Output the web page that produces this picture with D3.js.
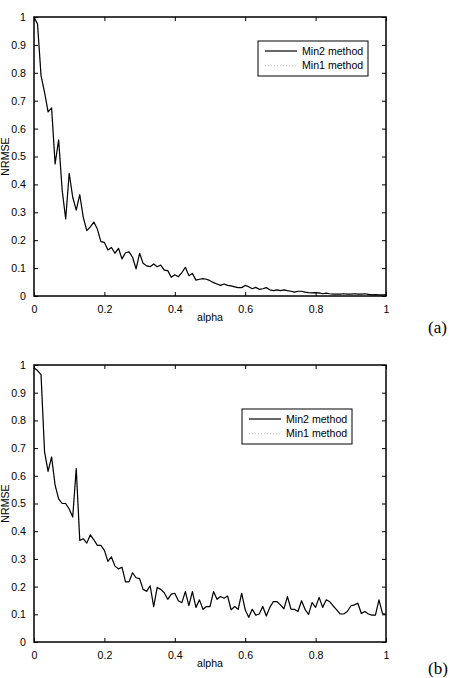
<!DOCTYPE html>
<html>
<head>
<meta charset="utf-8">
<script src="https://cdn.jsdelivr.net/npm/d3@7"></script>
<style>
  body { margin: 0; background: #fff; }
  svg { display: block; }
</style>
</head>
<body>
<svg id="chart" width="452" height="678"></svg>
<script>
// alpha grid, one point per 0.01
var alpha = d3.range(101).map(function(i){ return i / 100; });

// panel (a)
var min2A = [
  1.0, 0.975, 0.79, 0.73, 0.66, 0.674, 0.473, 0.56, 0.38, 0.276,
  0.44, 0.354, 0.308, 0.363, 0.282, 0.234, 0.248, 0.265, 0.24, 0.195,
  0.192, 0.165, 0.174, 0.153, 0.171, 0.133, 0.155, 0.158, 0.139, 0.097,
  0.153, 0.117, 0.108, 0.105, 0.115, 0.105, 0.111, 0.093, 0.091, 0.067,
  0.076, 0.069, 0.084, 0.103, 0.073, 0.081, 0.057, 0.06, 0.062, 0.06,
  0.055, 0.048, 0.043, 0.038, 0.043, 0.038, 0.036, 0.033, 0.03, 0.03,
  0.038, 0.033, 0.026, 0.031, 0.024, 0.026, 0.03, 0.022, 0.019, 0.022,
  0.019, 0.022, 0.019, 0.017, 0.014, 0.017, 0.017, 0.014, 0.012, 0.011,
  0.012, 0.011, 0.008, 0.01, 0.008, 0.007, 0.007, 0.007, 0.008, 0.007,
  0.007, 0.008, 0.007, 0.007, 0.008, 0.006, 0.004, 0.005, 0.004, 0.004,
  0.004
];
// Min1 lies under Min2 almost everywhere
var min1A = min2A;

// panel (b)
var min2B = [
  0.99, 0.98, 0.965, 0.686, 0.616, 0.668, 0.566, 0.517, 0.5, 0.5,
  0.48, 0.451, 0.626, 0.367, 0.373, 0.357, 0.387, 0.369, 0.349, 0.349,
  0.331, 0.291, 0.307, 0.274, 0.264, 0.27, 0.217, 0.217, 0.25, 0.232,
  0.229, 0.19, 0.183, 0.203, 0.128, 0.197, 0.19, 0.178, 0.154, 0.173,
  0.176, 0.149, 0.142, 0.182, 0.131, 0.182, 0.125, 0.152, 0.118, 0.128,
  0.128, 0.182, 0.154, 0.164, 0.158, 0.166, 0.116, 0.128, 0.118, 0.176,
  0.116, 0.089, 0.118, 0.097, 0.101, 0.128, 0.094, 0.125, 0.146, 0.146,
  0.134, 0.12, 0.164, 0.119, 0.118, 0.11, 0.149, 0.118, 0.1, 0.142,
  0.125, 0.161, 0.125, 0.152, 0.146, 0.13, 0.116, 0.101, 0.101, 0.11,
  0.13, 0.134, 0.14, 0.103, 0.11, 0.101, 0.097, 0.097, 0.152, 0.103,
  0.1
];
var min1B = min2B;

var xTicks = [0, 0.2, 0.4, 0.6, 0.8, 1];
var yTicks = [0, 0.1, 0.2, 0.3, 0.4, 0.5, 0.6, 0.7, 0.8, 0.9, 1];
var seriesNames = ["Min2 method", "Min1 method"];
var panelLabels = ["(a)", "(b)"];

var sans = "'Liberation Sans', Arial, Helvetica, sans-serif",
  serif = "'Liberation Serif', 'Times New Roman', serif";

var svg = d3.select("#chart");

function fmt(v){ return v === 0 || v === 1 ? String(v) : d3.format(".1f")(v); }

function drawPanel(cfg){
  var g = svg.append("g"),
    x = d3.scaleLinear().domain([0, 1]).range([cfg.left, cfg.right]),
    y = d3.scaleLinear().domain([0, 1]).range([cfg.bottom, cfg.top]),
    tick = 4;

  var line = d3.line()
    .x(function(d, i){ return x(alpha[i]); })
    .y(function(d){ return y(d); });

  // Min1 (dotted, light) under Min2 (solid)
  g.append("path").datum(cfg.min1)
    .attr("d", line).attr("fill", "none")
    .attr("stroke", "#bbb").attr("stroke-width", 1)
    .attr("stroke-dasharray", "1,2");
  g.append("path").datum(cfg.min2)
    .attr("d", line).attr("fill", "none")
    .attr("stroke", "#000").attr("stroke-width", 1.2)
    .attr("stroke-linejoin", "round");

  // inward ticks on all four sides
  var axB = d3.axisBottom(x).tickValues(xTicks).tickSize(-tick).tickPadding(9).tickFormat(fmt),
    axT = d3.axisTop(x).tickValues(xTicks).tickSize(-tick).tickFormat(""),
    axL = d3.axisLeft(y).tickValues(yTicks).tickSize(-tick).tickPadding(8).tickFormat(fmt),
    axR = d3.axisRight(y).tickValues(yTicks).tickSize(-tick).tickFormat("");

  [[axB, "translate(0," + cfg.bottom + ")"], [axT, "translate(0," + cfg.top + ")"],
   [axL, "translate(" + cfg.left + ",0)"], [axR, "translate(" + cfg.right + ",0)"]].forEach(function(a){
    var ag = g.append("g").attr("transform", a[1]).call(a[0]);
    ag.select(".domain").remove();
    ag.selectAll("line").attr("stroke", "#000").attr("stroke-width", 1);
    ag.selectAll("text").attr("fill", "#000").style("font-family", sans).style("font-size", "10.6px");
  });

  g.append("rect")
    .attr("x", cfg.left).attr("y", cfg.top)
    .attr("width", cfg.right - cfg.left).attr("height", cfg.bottom - cfg.top)
    .attr("fill", "none").attr("stroke", "#000").attr("stroke-width", 1.5);

  g.append("text")
    .attr("x", (cfg.left + cfg.right) / 2).attr("y", cfg.bottom + 25)
    .attr("text-anchor", "middle").attr("fill", "#000")
    .style("font-family", sans).style("font-size", "10.6px")
    .text("alpha");

  g.append("text")
    .attr("transform", "translate(9," + (cfg.top + cfg.bottom) / 2 + ") rotate(-90)")
    .attr("text-anchor", "middle").attr("fill", "#000")
    .style("font-family", sans).style("font-size", "10.6px")
    .text("NRMSE");

  // legend
  var lg = g.append("g").attr("transform", "translate(" + cfg.legX + "," + cfg.legY + ")");
  lg.append("rect").attr("width", 110).attr("height", 35)
    .attr("fill", "#fff").attr("stroke", "#000").attr("stroke-width", 1);
  lg.selectAll("g.item").data(seriesNames).enter().append("g")
    .attr("class", "item")
    .attr("transform", function(d, i){ return "translate(0," + (10 + i * 14.7) + ")"; })
    .each(function(d, i){
      var it = d3.select(this);
      it.append("line").attr("x1", 7).attr("x2", 39)
        .attr("stroke", i === 0 ? "#000" : "#bbb")
        .attr("stroke-width", i === 0 ? 1.2 : 1)
        .attr("stroke-dasharray", i === 0 ? null : "1,2");
      it.append("text").attr("x", 44).attr("dy", "0.35em").attr("fill", "#000")
        .style("font-family", sans).style("font-size", "10.6px")
        .text(d);
    });

  svg.append("text")
    .attr("x", 428).attr("y", cfg.labelY).attr("fill", "#000")
    .style("font-family", serif).style("font-size", "17px")
    .text(cfg.label);
}

drawPanel({top: 17, bottom: 296, left: 34, right: 386, min1: min1A, min2: min2A,
  legX: 258, legY: 41, label: panelLabels[0], labelY: 333});
drawPanel({top: 365, bottom: 642, left: 34, right: 386, min1: min1B, min2: min2B,
  legX: 242, legY: 409, label: panelLabels[1], labelY: 674});
</script>
</body>
</html>
